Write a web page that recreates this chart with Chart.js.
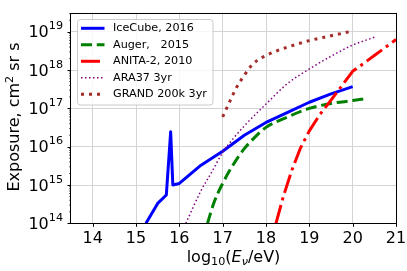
<!DOCTYPE html>
<html>
<head>
<meta charset="utf-8">
<script src="https://cdn.jsdelivr.net/npm/chart.js@4/dist/chart.umd.min.js"></script>
<style>
  html, body { margin: 0; padding: 0; background: #fff; }
  canvas { display: block; }
</style>
</head>
<body>
<canvas id="grafico" width="407" height="271"></canvas>
<script>
const xTicks = [14, 15, 16, 17, 18, 19, 20, 21];
const yTickExps = [14, 15, 16, 17, 18, 19];

// log10(E/eV) and exposure in cm^2 sr s
const iceCubeE = [15.23, 15.5, 15.7, 15.8, 15.85, 16.0, 16.5, 17.0, 17.5, 18.0, 18.5, 19.0, 19.5, 20.0];
const iceCubeExp = [1.0e14, 3.3e14, 5.5e14, 2.45e16, 1.0e15, 1.1e15, 3.3e15, 7.6e15, 2.0e16, 4.3e16, 7.9e16, 1.45e17, 2.4e17, 3.7e17];

const augerE = [16.65, 16.8, 17.0, 17.25, 17.5, 17.75, 18.0, 18.5, 19.0, 19.5, 20.0, 20.3];
const augerExp = [1.0e14, 3.5e14, 1.1e15, 3.5e15, 8.9e15, 1.8e16, 3.2e16, 6.0e16, 1.0e17, 1.35e17, 1.6e17, 1.8e17];

const anitaE = [18.23, 18.4, 18.6, 18.8, 19.0, 19.25, 19.5, 19.75, 20.0, 20.5, 21.0];
const anitaExp = [1.0e14, 5.0e14, 2.5e15, 9.5e15, 2.6e16, 7.1e16, 1.65e17, 3.9e17, 9.3e17, 2.4e18, 6.3e18];

const araE = [16.15, 16.5, 16.75, 17.0, 17.25, 17.5, 18.0, 18.5, 19.0, 19.5, 20.0, 20.5];
const araExp = [1.0e14, 7.1e14, 2.2e15, 7.1e15, 1.66e16, 3.5e16, 1.3e17, 4.5e17, 1.07e18, 2.3e18, 4.5e18, 7.2e18];

const grandE = [17.0, 17.15, 17.3, 17.5, 17.65, 17.8, 18.0, 18.25, 18.5, 19.0, 19.5, 20.0];
const grandExp = [6.0e16, 1.4e17, 3.2e17, 7.4e17, 1.26e18, 1.8e18, 2.4e18, 3.2e18, 4.0e18, 5.9e18, 7.9e18, 1.05e19];

const FONT = "'DejaVu Sans', sans-serif";

const pares = (xs, ys) => xs.map((x, i) => ({ x, y: ys[i] }));

const series = [
  { label: 'IceCube, 2016', data: pares(iceCubeE, iceCubeExp), color: '#0000ff', width: 3, dash: [], smooth: false },
  { label: 'Auger,   2015', data: pares(augerE, augerExp), color: '#008000', width: 3, dash: [11, 4.8], smooth: true },
  { label: 'ANITA-2, 2010', data: pares(anitaE, anitaExp), color: '#ff0000', width: 3, dash: [19, 4.8, 3, 4.8], smooth: false },
  { label: 'ARA37 3yr', data: pares(araE, araExp), color: '#800080', width: 1.5, dash: [1.5, 2.5], smooth: true },
  { label: 'GRAND 200k 3yr', data: pares(grandE, grandExp), color: '#a52a2a', width: 3, dash: [3, 5], smooth: true }
];

const decor = {
  id: 'decor',
  afterDatasetsDraw(chart) {
    const { ctx, chartArea: a, scales: { x, y } } = chart;
    ctx.save();

    // ticks
    ctx.strokeStyle = '#000';
    ctx.lineWidth = 1;
    ctx.beginPath();
    xTicks.forEach(v => {
      const px = Math.round(x.getPixelForValue(v)) + 0.5;
      ctx.moveTo(px, a.bottom);
      ctx.lineTo(px, a.bottom + 3.5);
    });
    yTickExps.forEach(e => {
      const py = Math.round(y.getPixelForValue(10 ** e)) + 0.5;
      ctx.moveTo(a.left, py);
      ctx.lineTo(a.left - 3.5, py);
    });
    ctx.stroke();
    ctx.lineWidth = 0.6;
    ctx.beginPath();
    for (let e = 14; e <= 19; e++) {
      for (let m = 2; m <= 9; m++) {
        const v = m * 10 ** e;
        if (v > y.max) continue;
        const py = y.getPixelForValue(v);
        ctx.moveTo(a.left, py);
        ctx.lineTo(a.left - 2, py);
      }
    }
    ctx.stroke();

    // frame
    ctx.lineWidth = 1;
    ctx.strokeRect(Math.round(a.left) - 0.5, Math.round(a.top) + 0.5,
      Math.round(a.right) - Math.round(a.left) + 1, Math.round(a.bottom) - Math.round(a.top));

    // tick labels
    ctx.fillStyle = '#000';
    ctx.font = `16px ${FONT}`;
    ctx.textAlign = 'center';
    ctx.textBaseline = 'alphabetic';
    xTicks.forEach(v => ctx.fillText(String(v), x.getPixelForValue(v), 243.3));

    ctx.textAlign = 'left';
    yTickExps.forEach(e => {
      const py = y.getPixelForValue(10 ** e);
      ctx.font = `16px ${FONT}`;
      const w10 = ctx.measureText('10').width;
      ctx.font = `11.2px ${FONT}`;
      const wE = ctx.measureText(String(e)).width;
      const x0 = 63 - w10 - wE;
      ctx.font = `16px ${FONT}`;
      ctx.fillText('10', x0, py + 5.6);
      ctx.font = `11.2px ${FONT}`;
      ctx.fillText(String(e), x0 + w10, py - 2.5);
    });

    // y title
    ctx.save();
    ctx.translate(19, 117);
    ctx.rotate(-Math.PI / 2);
    const partsY = [
      { t: 'Exposure, cm', f: `16px ${FONT}`, dy: 0 },
      { t: '2', f: `11.2px ${FONT}`, dy: -6.5 },
      { t: ' sr s', f: `16px ${FONT}`, dy: 0 }
    ];
    drawParts(ctx, partsY, 0, 0);
    ctx.restore();

    // x title
    const partsX = [
      { t: 'log', f: `16px ${FONT}`, dy: 0 },
      { t: '10', f: `11.2px ${FONT}`, dy: 3.6 },
      { t: '(', f: `16px ${FONT}`, dy: 0 },
      { t: 'E', f: `italic 16px ${FONT}`, dy: 0 },
      { t: 'ν', f: `italic 11.2px ${FONT}`, dy: 3.6 },
      { t: '/eV)', f: `16px ${FONT}`, dy: 0 }
    ];
    drawParts(ctx, partsX, (a.left + a.right) / 2, 261.5);

    // legend
    const lx = 77.5, ly = 19.5, lw = 135.5, lh = 85.5;
    ctx.beginPath();
    ctx.roundRect(lx, ly, lw, lh, 3);
    ctx.fillStyle = 'rgba(255,255,255,0.8)';
    ctx.fill();
    ctx.strokeStyle = '#cccccc';
    ctx.lineWidth = 1;
    ctx.stroke();

    ctx.font = `11.2px ${FONT}`;
    ctx.textBaseline = 'middle';
    ctx.textAlign = 'left';
    chart.data.datasets.forEach((ds, i) => {
      const ry = 28.3 + i * 16.5;
      ctx.strokeStyle = ds.borderColor;
      ctx.lineWidth = ds.borderWidth;
      ctx.setLineDash(ds.borderDash);
      ctx.lineCap = 'butt';
      ctx.beginPath();
      ctx.moveTo(81, ry);
      ctx.lineTo(104.5, ry);
      ctx.stroke();
      ctx.setLineDash([]);
      ctx.fillStyle = '#000';
      ctx.fillText(ds.label, 113, ry);
    });

    ctx.restore();
  }
};

function drawParts(ctx, parts, cx, baseY) {
  let total = 0;
  parts.forEach(p => { ctx.font = p.f; p.w = ctx.measureText(p.t).width; total += p.w; });
  let cur = cx - total / 2;
  ctx.textAlign = 'left';
  ctx.textBaseline = 'alphabetic';
  ctx.fillStyle = '#000';
  parts.forEach(p => {
    ctx.font = p.f;
    ctx.fillText(p.t, cur, baseY + p.dy);
    cur += p.w;
  });
}

new Chart(document.getElementById('grafico'), {
  type: 'scatter',
  data: {
    datasets: series.map((s, i) => ({
      label: s.label,
      data: s.data,
      showLine: true,
      borderColor: s.color,
      backgroundColor: s.color,
      borderWidth: s.width,
      borderDash: s.dash,
      borderJoinStyle: 'round',
      pointRadius: 0,
      cubicInterpolationMode: s.smooth ? 'monotone' : 'default',
      tension: 0,
      order: series.length - i
    }))
  },
  options: {
    responsive: false,
    devicePixelRatio: 1,
    animation: false,
    layout: { padding: { top: 12.7, right: 11, bottom: 0, left: 0 } },
    plugins: { legend: { display: false }, tooltip: { enabled: false } },
    scales: {
      x: {
        type: 'linear',
        min: 13.5,
        max: 21,
        afterBuildTicks: s => { s.ticks = xTicks.map(v => ({ value: v })); },
        afterFit: s => { s.height = 47.7; },
        ticks: { display: false },
        border: { display: false },
        grid: { color: '#d4d4d4', lineWidth: 1, drawTicks: false }
      },
      y: {
        type: 'logarithmic',
        min: 1e14,
        max: 3.16e19,
        afterBuildTicks: s => { s.ticks = yTickExps.map(e => ({ value: 10 ** e })); },
        afterFit: s => { s.width = 71; },
        ticks: { display: false },
        border: { display: false },
        grid: { color: '#d4d4d4', lineWidth: 1, drawTicks: false }
      }
    }
  },
  plugins: [decor]
});
</script>
</body>
</html>
